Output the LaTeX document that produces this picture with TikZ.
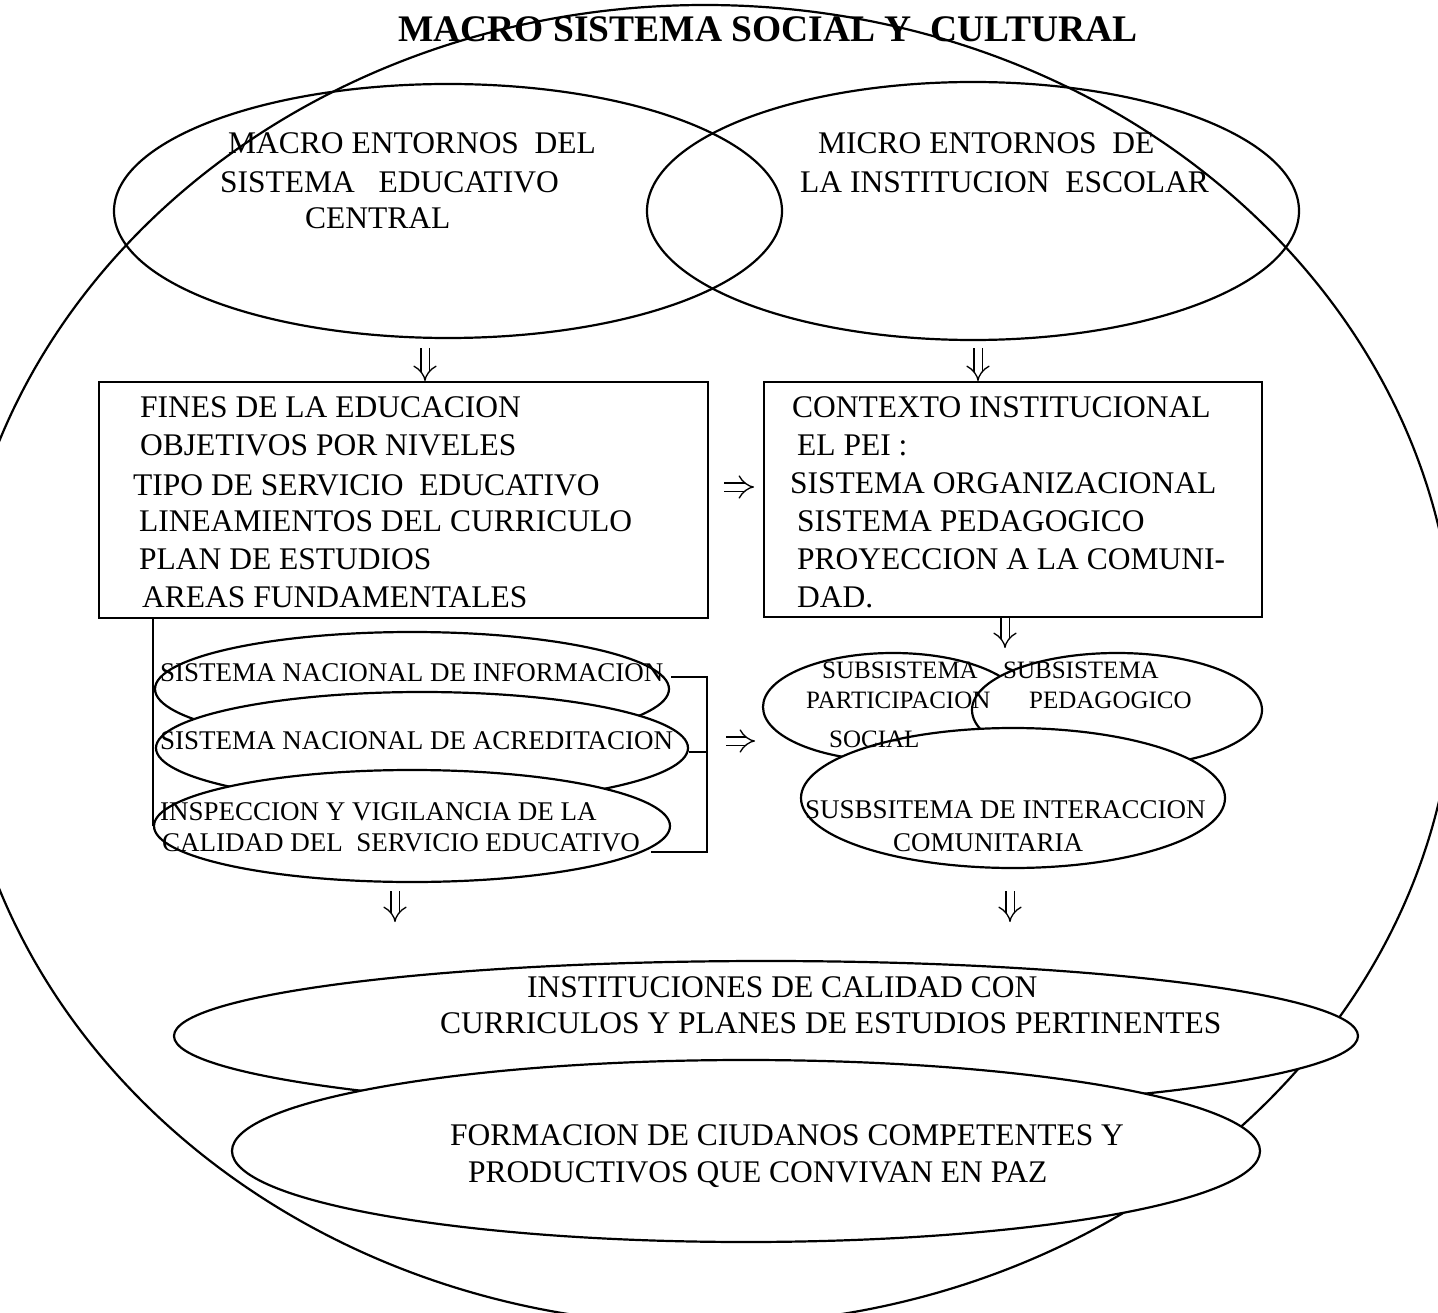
\documentclass[tikz,border=0pt]{standalone}
\usepackage{fontspec}
\setmainfont{Liberation Serif}
\usetikzlibrary{shapes.geometric,arrows.meta}
\begin{document}
\begin{tikzpicture}[x=1pt,y=-1pt,
  ln/.style={line width=2.2pt},
  ell/.style={ellipse, draw, line width=2.2pt, inner sep=0pt},
  fillell/.style={ell, fill=white},
  boxst/.style={draw, line width=2.2pt, inner sep=0pt},
  arr/.style={line width=1.3pt, double, double distance=7pt, -{Implies}},
  tA/.style={anchor=west, inner sep=0pt, font=\fontsize{31.5}{38}\selectfont, text height=20.6pt, text depth=0pt},
  tB/.style={anchor=west, inner sep=0pt, font=\fontsize{27}{31}\selectfont, text height=17.7pt, text depth=0pt},
  tC/.style={anchor=west, inner sep=0pt, font=\fontsize{25}{30}\selectfont, text height=16.4pt, text depth=0pt},
  tT/.style={anchor=west, inner sep=0pt, font=\fontsize{37.5}{44}\selectfont\bfseries, text height=24.6pt, text depth=0pt}
]
\useasboundingbox (0,0) rectangle (1438,1313);

% big outer shape
\node[ell, minimum width=1500pt, minimum height=1320pt] (big) at (705,665) {};

% top circles
\node[ell, minimum width=668pt, minimum height=254pt] (lc) at (448,211) {};
\node[ell, minimum width=652pt, minimum height=258pt] (rc) at (973,211) {};

% boxes
\node[boxst, minimum width=609pt, minimum height=236pt, anchor=north west] (lbox) at (98,381) {};
\node[boxst, minimum width=498pt, minimum height=235pt, anchor=north west] (rbox) at (763,381) {};

% left stack
\node[fillell, minimum width=514pt, minimum height=114pt] (e1) at (412,689) {};
\node[fillell, minimum width=532pt, minimum height=112pt] (e2) at (422,748) {};
\node[fillell, minimum width=516pt, minimum height=112pt] (e3) at (412,826) {};
\draw[ln] (lbox.south west -| e3.west) -- (e3.west);
\coordinate (b1) at (671,677);
\coordinate (b2) at (707,677);
\coordinate (b3) at (707,852);
\coordinate (b4) at (651,852);
\coordinate (b5) at (689,752);
\draw[ln] (b1) -- (b2) -- (b3) -- (b4);
\draw[ln] (b5) -- (b5 -| b2);

% right stack
\node[fillell, minimum width=260pt, minimum height=108pt] (sa) at (893,707) {};
\node[fillell, minimum width=290pt, minimum height=114pt] (sb) at (1117,710) {};
\node[fillell, minimum width=424pt, minimum height=140pt] (sc) at (1013,798) {};

% bottom ellipses
\node[fillell, minimum width=1184pt, minimum height=150pt] (inst) at (766,1036) {};
\node[fillell, minimum width=1028pt, minimum height=182pt] (form) at (746,1151) {};

% arrows
\coordinate (a1) at (425,348);
\coordinate (a2) at (978,348);
\coordinate (a3) at (1005,648);
\coordinate (a4s) at (395,891);
\coordinate (a4e) at (395,922);
\coordinate (a5s) at (1010,891);
\coordinate (a5e) at (1010,922);
\coordinate (h1s) at (724,487);
\coordinate (h1e) at (754,487);
\coordinate (h2s) at (726,741);
\coordinate (h2e) at (755,741);
\draw[arr] (a1) -- (a1 |- lbox.north);
\draw[arr] (a2) -- (a2 |- rbox.north);
\draw[arr] (a3 |- rbox.south) -- (a3);
\draw[arr] (a4s) -- (a4e);
\draw[arr] (a5s) -- (a5e);
\draw[arr] (h1s) -- (h1e);
\draw[arr] (h2s) -- (h2e);

% texts
\node[tT] (title) at (398,29) {MACRO SISTEMA SOCIAL Y\ \ CULTURAL};

\node[tA] (m1) at (228,143) {MACRO ENTORNOS\ \ DEL};
\node[tA] (m2) at (220,182) {SISTEMA\ \ \ EDUCATIVO};
\node[tA] (m3) at (305,218) {CENTRAL};
\node[tA] (n1) at (818,143) {MICRO ENTORNOS\ \ DE};
\node[tA] (n2) at (800,182) {LA INSTITUCION\ \ ESCOLAR};

\node[tA] (l1) at (140,407) {FINES DE LA EDUCACION};
\node[tA] (l2) at (140,445) {OBJETIVOS POR NIVELES};
\node[tA] (l3) at (133,485) {TIPO DE SERVICIO\ \ EDUCATIVO};
\node[tA] (l4) at (139,521) {LINEAMIENTOS DEL CURRICULO};
\node[tA] (l5) at (139,559) {PLAN DE ESTUDIOS};
\node[tA] (l6) at (142,597) {AREAS FUNDAMENTALES};

\node[tA] (r1) at (792,407) {CONTEXTO INSTITUCIONAL};
\node[tA] (r2) at (797,445) {EL PEI :};
\node[tA] (r3) at (790,483) {SISTEMA ORGANIZACIONAL};
\node[tA] (r4) at (797,521) {SISTEMA PEDAGOGICO};
\node[tA] (r5) at (797,559) {PROYECCION A LA COMUNI-};
\node[tA] (r6) at (797,597) {DAD.};

\node[tB] (k1) at (160,673) {SISTEMA NACIONAL DE INFORMACION};
\node[tB] (k2) at (160,741) {SISTEMA NACIONAL DE ACREDITACION};
\node[tB] (k3) at (160,812) {INSPECCION Y VIGILANCIA DE LA};
\node[tB] (k4) at (162,843) {CALIDAD DEL\ \ SERVICIO EDUCATIVO};

\node[tC] (p1) at (822,670) {SUBSISTEMA};
\node[tC] (p2) at (806,700) {PARTICIPACION};
\node[tC] (p3) at (829,739) {SOCIAL};
\node[tC] (q1) at (1003,670) {SUBSISTEMA};
\node[tC] (q2) at (1029,700) {PEDAGOGICO};
\node[tB] (s1) at (805,810) {SUSBSITEMA DE INTERACCION};
\node[tB] (s2) at (893,843) {COMUNITARIA};

\node[tA] (i1) at (527,987) {INSTITUCIONES DE CALIDAD CON};
\node[tA] (i2) at (440,1023) {CURRICULOS Y PLANES DE ESTUDIOS PERTINENTES};
\node[tA] (f1) at (450,1135) {FORMACION DE CIUDANOS COMPETENTES Y};
\node[tA] (f2) at (468,1172) {PRODUCTIVOS QUE CONVIVAN EN PAZ};
\end{tikzpicture}
\end{document}
